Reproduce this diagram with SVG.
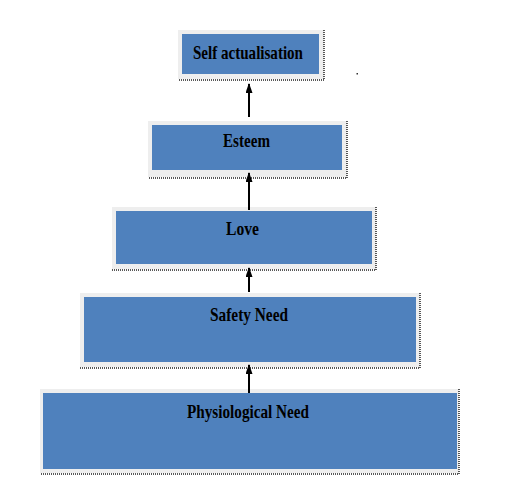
<svg xmlns="http://www.w3.org/2000/svg" width="530" height="489" viewBox="0 0 530 489">
<style>
.frame{fill:#eeeeee}
.box{fill:#4f81bd}
.dot{fill:none;stroke:#222;stroke-width:1.5;stroke-dasharray:1 1}
.lbl{font-family:"Liberation Serif","Times New Roman",serif;font-weight:bold;font-size:19px;fill:#000;text-anchor:middle}
.conn{stroke:#000;stroke-width:2;fill:none}
</style>
<defs>
<marker id="ah" viewBox="0 0 10 10" refX="9" refY="5" markerWidth="5" markerHeight="3.5" orient="auto" preserveAspectRatio="none">
<path d="M0,0 L10,5 L0,10 Z" fill="#000"/>
</marker>
</defs>
<rect width="530" height="489" fill="#fff"/>
<g id="self">
<rect class="frame" x="178" y="30" width="146" height="49"/>
<rect class="box" x="182" y="34" width="137" height="40"/>
<path class="dot" d="M324,30 V80 H178"/>
<text class="lbl" x="248" y="59" textLength="110" lengthAdjust="spacingAndGlyphs">Self actualisation</text>
</g>
<g id="esteem">
<rect class="frame" x="148" y="121" width="199" height="56"/>
<rect class="box" x="152" y="125" width="190" height="45"/>
<path class="dot" d="M347,121 V178 H148"/>
<text class="lbl" x="246.5" y="147" textLength="47" lengthAdjust="spacingAndGlyphs">Esteem</text>
</g>
<g id="love">
<rect class="frame" x="112" y="207" width="264" height="62"/>
<rect class="box" x="116" y="211" width="256" height="53"/>
<path class="dot" d="M376,207 V270 H112"/>
<text class="lbl" x="242.5" y="235" textLength="33" lengthAdjust="spacingAndGlyphs">Love</text>
</g>
<g id="safety">
<rect class="frame" x="80" y="293" width="340" height="74"/>
<rect class="box" x="84" y="297" width="332" height="65"/>
<path class="dot" d="M420,293 V368 H80"/>
<text class="lbl" x="249" y="320.5" textLength="78" lengthAdjust="spacingAndGlyphs">Safety Need</text>
</g>
<g id="physiological">
<rect class="frame" x="40" y="389" width="419" height="84"/>
<rect class="box" x="43" y="393" width="414" height="76"/>
<path class="dot" d="M459,389 V474 H40"/>
<text class="lbl" x="248" y="418" textLength="122" lengthAdjust="spacingAndGlyphs">Physiological Need</text>
</g>
<g id="connectors">
<line class="conn" x1="249" y1="117" x2="249" y2="84" marker-end="url(#ah)"/>
<line class="conn" x1="249" y1="210" x2="249" y2="173" marker-end="url(#ah)"/>
<line class="conn" x1="249" y1="292" x2="249" y2="268" marker-end="url(#ah)"/>
<line class="conn" x1="249" y1="393" x2="249" y2="365" marker-end="url(#ah)"/>
</g>
<rect x="356.5" y="73" width="1.5" height="1.5" fill="#333"/>
</svg>
